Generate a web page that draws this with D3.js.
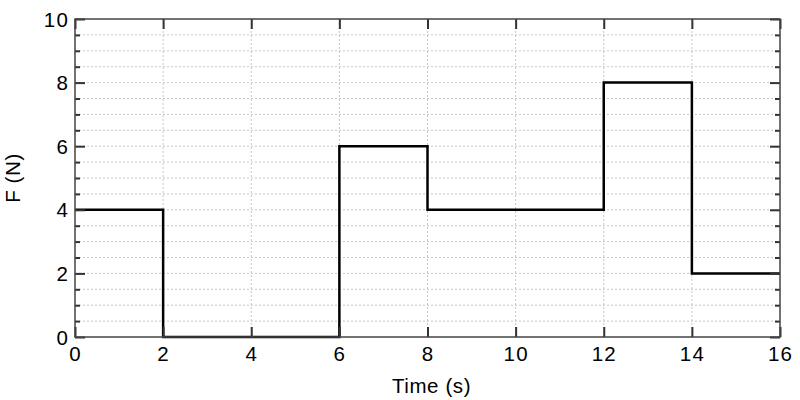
<!DOCTYPE html>
<html><head><meta charset="utf-8">
<script src="https://cdn.jsdelivr.net/npm/d3@7"></script>
<style>body{margin:0;background:#fff}svg{display:block}text{font-family:"Liberation Sans",Arial,sans-serif}</style>
</head><body>
<svg id="c" width="800" height="400"></svg>
<script>
const times = [0, 2, 6, 8, 12, 14, 16];
const forces = [4, 0, 6, 4, 8, 2, 2];
const xTicks = [0, 2, 4, 6, 8, 10, 12, 14, 16];
const yTicks = [0, 2, 4, 6, 8, 10];

const svg = d3.select("#c");
const L = 75, R = 780, T = 19, B = 337;
const FS = 20.5;
const x = d3.scaleLinear().domain([0, 16]).range([L, R]);
const y = d3.scaleLinear().domain([0, 10]).range([B, T]);

const g = svg.append("g");
// grid
const yGrid = d3.range(1, 20).map(i => i * 0.5);
g.selectAll(".hg").data(yGrid).enter().append("line")
  .attr("x1", L).attr("x2", R).attr("y1", d => y(d)).attr("y2", d => y(d))
  .attr("stroke", "#b8b8b8").attr("stroke-width", 0.8).attr("stroke-dasharray", "2,2");
g.selectAll(".vg").data(xTicks.slice(1, -1)).enter().append("line")
  .attr("y1", T).attr("y2", B).attr("x1", d => x(d)).attr("x2", d => x(d))
  .attr("stroke", "#b8b8b8").attr("stroke-width", 0.8).attr("stroke-dasharray", "2,2");

// step line
const data = times.map((t, i) => [t, forces[i]]);
g.append("path").datum(data)
  .attr("d", d3.line().x(d => x(d[0])).y(d => y(d[1])).curve(d3.curveStepAfter))
  .attr("fill", "none").attr("stroke", "#000").attr("stroke-width", 2.5);

// axes
const tickColor = "#333";
const xb = svg.append("g").attr("transform", `translate(0,${B})`)
  .call(d3.axisBottom(x).tickValues(xTicks).tickSize(-10).tickPadding(9.5).tickFormat(d3.format("d")));
const xt = svg.append("g").attr("transform", `translate(0,${T})`)
  .call(d3.axisTop(x).tickValues(xTicks).tickSize(-10).tickFormat(""));
const yl = svg.append("g").attr("transform", `translate(${L},0)`)
  .call(d3.axisLeft(y).tickValues(yTicks).tickSize(-10).tickPadding(6).tickFormat(d3.format("d")));
const yr = svg.append("g").attr("transform", `translate(${R},0)`)
  .call(d3.axisRight(y).tickValues(yTicks).tickSize(-10).tickFormat(""));
const minorY = d3.range(1, 20).map(i => i * 0.5).filter(v => v % 2 !== 0);
const ylm = svg.append("g").attr("transform", `translate(${L},0)`)
  .call(d3.axisLeft(y).tickValues(minorY).tickSize(-5).tickFormat(""));
const yrm = svg.append("g").attr("transform", `translate(${R},0)`)
  .call(d3.axisRight(y).tickValues(minorY).tickSize(-5).tickFormat(""));
[xb, xt, yl, yr, ylm, yrm].forEach(a => {
  a.select(".domain").remove();
  a.selectAll(".tick line").attr("stroke", tickColor).attr("stroke-width", 2);
  a.selectAll("text").attr("font-size", FS).attr("fill", "#000").attr("letter-spacing", 1.2);
});
yl.selectAll("text").attr("dy", "0.35em");
// frame
svg.append("rect").attr("x", L).attr("y", T).attr("width", R - L).attr("height", B - T)
  .attr("fill", "none").attr("stroke", "#444").attr("stroke-width", 1.5);

svg.append("text").attr("x", (L + R) / 2 + 4).attr("y", 393).attr("text-anchor", "middle")
  .attr("font-size", FS).attr("letter-spacing", 0.6).text("Time (s)");
svg.append("text").attr("transform", `translate(20,${(T + B) / 2}) rotate(-90)`)
  .attr("text-anchor", "middle").attr("font-size", FS).attr("letter-spacing", 0.6).text("F (N)");
</script>
</body></html>
